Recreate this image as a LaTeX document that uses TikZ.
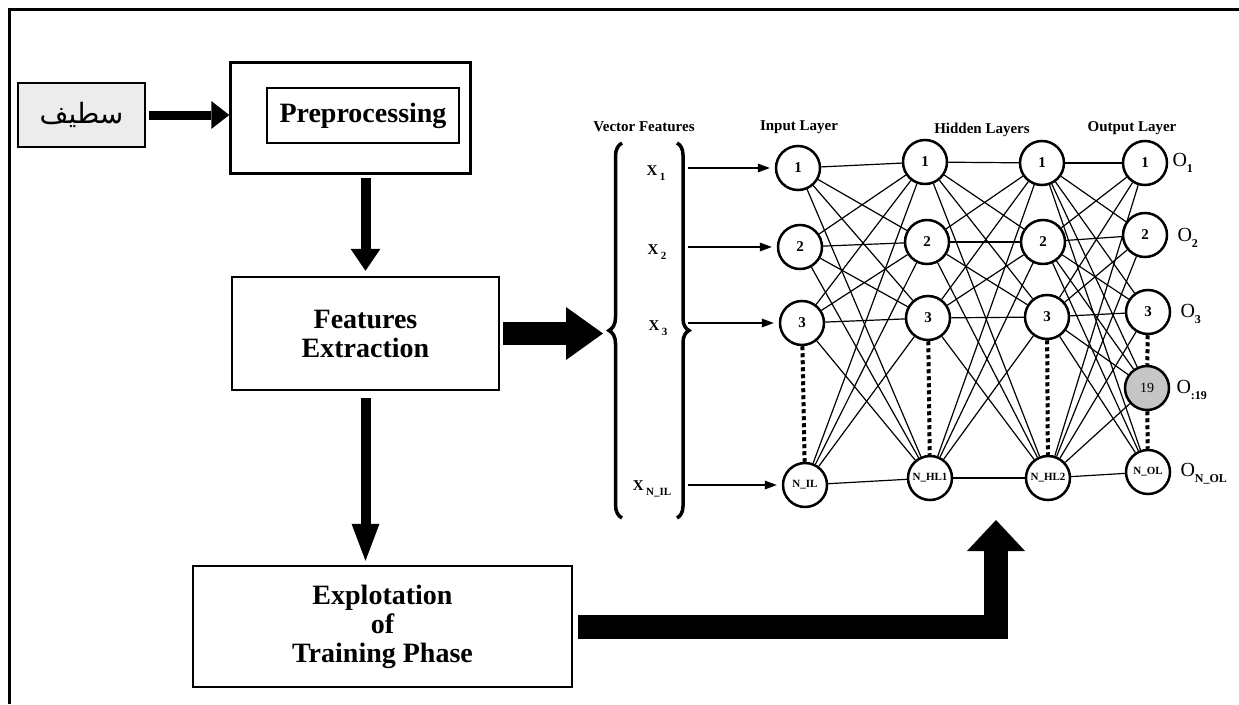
\documentclass[tikz,border=0pt]{standalone}
\usepackage{fontspec}
\setmainfont{Liberation Serif}
\newfontfamily\arabicfont[Script=Arabic]{DejaVu Sans}
\TeXXeTstate=1
\usetikzlibrary{arrows.meta,decorations.pathreplacing}
\def\fs#1{\fontsize{#1}{#1}\selectfont}
\def\sub#1{\,\raisebox{-5pt}{\fs{11}\bfseries #1}}
\def\osub#1{\raisebox{-6pt}{\fs{12}\bfseries #1}}
\def\tri#1#2{-{Triangle[width=#1,length=#2,line width=0pt]}}
\tikzset{
  box/.style={draw,line width=2.5pt,inner sep=0pt,align=center,font=\fontsize{28}{29}\selectfont\bfseries},
  neuron/.style={circle,draw,line width=2.5pt,fill=white,minimum size=44pt,inner sep=0pt,font=\fs{15}\bfseries},
  small/.style={font=\fs{11}\bfseries},
  title/.style={font=\fs{15}\bfseries},
  xlab/.style={font=\fs{15}\bfseries},
  olab/.style={font=\fs{20},anchor=west},
  link/.style={line width=1.2pt},
  gap/.style={line width=4pt,dash pattern=on 4pt off 3pt},
  fat/.style={line width=#1,line join=miter},
  inarr/.style={line width=2.5pt,-{Triangle[length=12pt,width=9pt,line width=0pt]},shorten >=5pt},
}
\begin{document}
\begin{tikzpicture}[x=1pt,y=-1pt]
\useasboundingbox (0,0) rectangle (1239,704);
\draw[line width=3pt] (9.5,704) -- (9.5,9.5) -- (1239,9.5);

% left column
\node[box,fill=gray!15,minimum width=127pt,minimum height=64pt] (sig) at (81.5,115)
  {\arabicfont\mdseries\fs{28}\beginR سطيف\endR};
\node[box,minimum width=240pt,minimum height=111pt] (pre) at (350.5,118) {};
\node[box,minimum width=192pt,minimum height=55pt] (prei) at (363,115.5) {Preprocessing};
\node[box,minimum width=267pt,minimum height=113pt] (fe) at (365.5,333.5) {Features\\Extraction};
\node[box,minimum width=379pt,minimum height=121pt] (ex) at (382.5,626.5) {Explotation\\of\\Training Phase};

\draw[fat=9pt,\tri{28pt}{18pt},shorten <=3pt] (sig.east) -- (sig.east -| pre.west);
\draw[fat=10pt,\tri{30pt}{22pt},shorten <=3pt,shorten >=5pt] (fe.north |- pre.south) -- (fe.north);
\draw[fat=10pt,\tri{28pt}{37pt},shorten <=7pt,shorten >=4pt] (fe.south) -- (fe.south |- ex.north);

% vector features
\coordinate (lb) at (610,333.5);
\coordinate (rb) at (688,330);
\coordinate (up) at (996,520);
\draw[fat=23pt,\tri{53pt}{37pt},shorten <=3pt,shorten >=7pt] (fe.east) -- (lb);
\draw[fat=24pt,\tri{58pt}{31pt},shorten <=5pt] (ex.east) -| (up);
\draw[decorate,decoration={brace,amplitude=13pt},line width=3.5pt] (622,518) -- (622,143);
\draw[decorate,decoration={brace,amplitude=12pt},line width=3.5pt] (677,143) -- (677,518);

\node[title] (tv) at (644,127) {Vector Features};
\node[title] (ti) at (799,127) {Input Layer};
\node[title] (th) at (982,130) {Hidden Layers};
\node[title] (to) at (1132,128) {Output Layer};

\node[xlab] (x1) at (656,173) {X\sub{1}};
\node[xlab] (x2) at (657,252) {X\sub{2}};
\node[xlab] (x3) at (658,328) {X\sub{3}};
\node[xlab] (xn) at (652,489) {X\sub{N\_IL}};

% layers
\node[neuron] (i1) at (798,168) {1};
\node[neuron] (i2) at (800,247) {2};
\node[neuron] (i3) at (802,323) {3};
\node[neuron,small] (in) at (805,485) {N\_IL};
\node[neuron] (a1) at (925,162) {1};
\node[neuron] (a2) at (927,242) {2};
\node[neuron] (a3) at (928,318) {3};
\node[neuron,small] (an) at (930,478) {N\_HL1};
\node[neuron] (b1) at (1042,163) {1};
\node[neuron] (b2) at (1043,242) {2};
\node[neuron] (b3) at (1047,317) {3};
\node[neuron,small] (bn) at (1048,478) {N\_HL2};
\node[neuron] (o1) at (1145,163) {1};
\node[neuron] (o2) at (1145,235) {2};
\node[neuron] (o3) at (1148,312) {3};
\node[neuron,fill=gray!45,font=\fs{14}] (o19) at (1147,388) {19};
\node[neuron,small] (on) at (1148,472) {N\_OL};

\draw[inarr] (i1 -| rb) -- (i1);
\draw[inarr] (i2 -| rb) -- (i2);
\draw[inarr] (i3 -| rb) -- (i3);
\draw[inarr] (in -| rb) -- (in);

\foreach \p in {i1,i2,i3,in} \foreach \q in {a1,a2,a3,an} \draw[link] (\p) -- (\q);
\foreach \p in {a1,a2,a3,an} \foreach \q in {b1,b2,b3,bn} \draw[link] (\p) -- (\q);
\foreach \p in {b1,b2,b3,bn} \foreach \q in {o1,o2,o3,o19,on} \draw[link] (\p) -- (\q);
\draw[gap] (i3) -- (in);
\draw[gap] (a3) -- (an);
\draw[gap] (b3) -- (bn);
\draw[gap] (o3) -- (o19);
\draw[gap] (o19) -- (on);

\node[olab] (l1) at (1169,163) {O\osub{1}};
\node[olab] (l2) at (1174,238) {O\osub{2}};
\node[olab] (l3) at (1177,314) {O\osub{3}};
\node[olab] (l19) at (1173,390) {O\osub{:19}};
\node[olab] (ln) at (1177,474) {O\osub{N\_OL}};
\end{tikzpicture}
\end{document}
